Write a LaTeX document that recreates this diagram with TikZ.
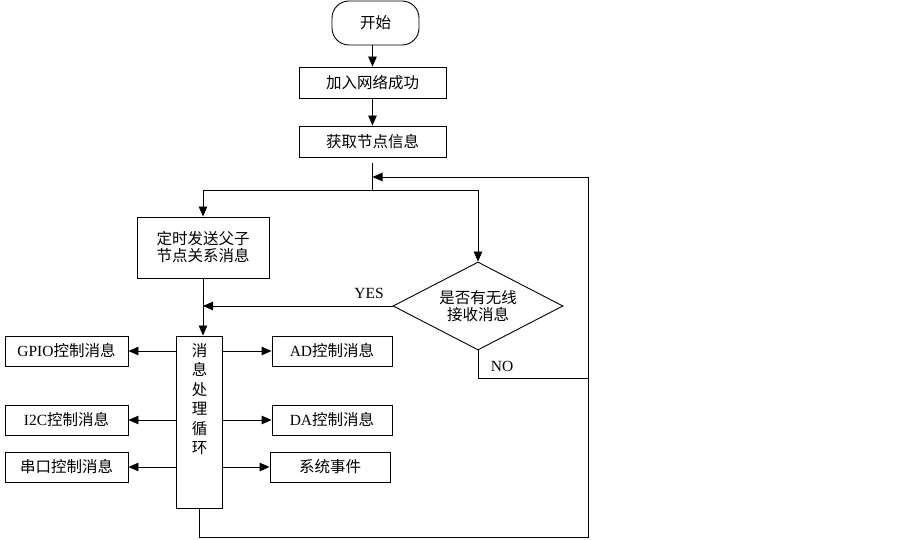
\documentclass[tikz,border=0pt]{standalone}
\usepackage{fontspec}
\setmainfont{Liberation Serif}
\newfontfamily\cjk{Noto Sans CJK SC}
\usetikzlibrary{shapes.geometric,arrows.meta}
\begin{document}
\begin{tikzpicture}[x=1pt,y=-1pt,
  every node/.style={font=\fontsize{15.5}{18}\selectfont},
  box/.style={draw,line width=0.9pt,rectangle,inner sep=0pt},
  term/.style={box,rounded corners=17pt},
  dec/.style={draw,line width=0.9pt,diamond,inner sep=0pt,shape aspect=1.93,minimum width=170pt,minimum height=88pt},
  line/.style={line width=0.9pt},
  arr/.style={line,-{Triangle[length=10pt,width=8.5pt]}},
  lbl/.style={inner sep=0pt}
]
\useasboundingbox (0,0) rectangle (903,540);
% nodes
\node[term,minimum width=87pt,minimum height=44pt] (start) at (375.5,23) {\cjk 开始};
\node[box,minimum width=147pt,minimum height=31pt] (join) at (372.5,82.5) {\cjk 加入网络成功};
\node[box,minimum width=147pt,minimum height=31pt] (info) at (372.5,141.5) {\cjk 获取节点信息};
\node[box,minimum width=132pt,minimum height=61pt,align=center] (send) at (203,247.5) {\cjk 定时发送父子\\[-1pt]\cjk 节点关系消息};
\node[dec,align=center] (dec) at (478,306) {\cjk 是否有无线\\[-1pt]\cjk 接收消息};
\node[box,minimum width=46pt,minimum height=172pt] (loop) at (199.5,422) {};
\node[lbl,anchor=north,align=center,font=\fontsize{15.5}{19.5}\selectfont] (looptext) at (199.5,343) {\cjk 消\\\cjk 息\\\cjk 处\\\cjk 理\\\cjk 循\\\cjk 环};
\node[box,minimum width=123pt,minimum height=30pt] (gpio) at (66.5,351) {GPIO{\cjk 控制消息}};
\node[box,minimum width=123pt,minimum height=30pt] (i2c) at (66.5,420) {I2C{\cjk 控制消息}};
\node[box,minimum width=123pt,minimum height=30pt] (uart) at (66.5,467) {\cjk 串口控制消息};
\node[box,minimum width=120pt,minimum height=30pt] (ad) at (332,351) {AD{\cjk 控制消息}};
\node[box,minimum width=120pt,minimum height=30pt] (da) at (332,420) {DA{\cjk 控制消息}};
\node[box,minimum width=120pt,minimum height=30pt] (sys) at (330,467) {\cjk 系统事件};
\node[lbl] (yes) at (369,293) {YES};
\node[lbl] (no) at (502,366) {NO};
% coordinates
\coordinate (top) at (372.5,163);
\coordinate (split) at (372.5,190);
\coordinate (ret) at (588,177);
\coordinate (bot) at (588,537);
\coordinate (nocorner) at (588,378);
% connectors
\draw[arr] (start.south -| join) -- (join);
\draw[arr] (join) -- (info);
\draw[line] (top) -- (split);
\draw[arr] (split) -| (send.north);
\draw[arr] (split) -| (dec.north);
\draw[arr] (dec.west) -- (send.south |- dec.west);
\draw[arr] (send.south) -- (send.south |- loop.north);
\draw[line] (dec.south) |- (nocorner);
\draw[arr] (loop.south) |- (bot) -- (ret) -- (top |- ret);
\draw[arr] (loop.west |- gpio) -- (gpio.east);
\draw[arr] (loop.west |- i2c) -- (i2c.east);
\draw[arr] (loop.west |- uart) -- (uart.east);
\draw[arr] (loop.east |- ad) -- (ad.west);
\draw[arr] (loop.east |- da) -- (da.west);
\draw[arr] (loop.east |- sys) -- (sys.west);
\end{tikzpicture}
\end{document}
